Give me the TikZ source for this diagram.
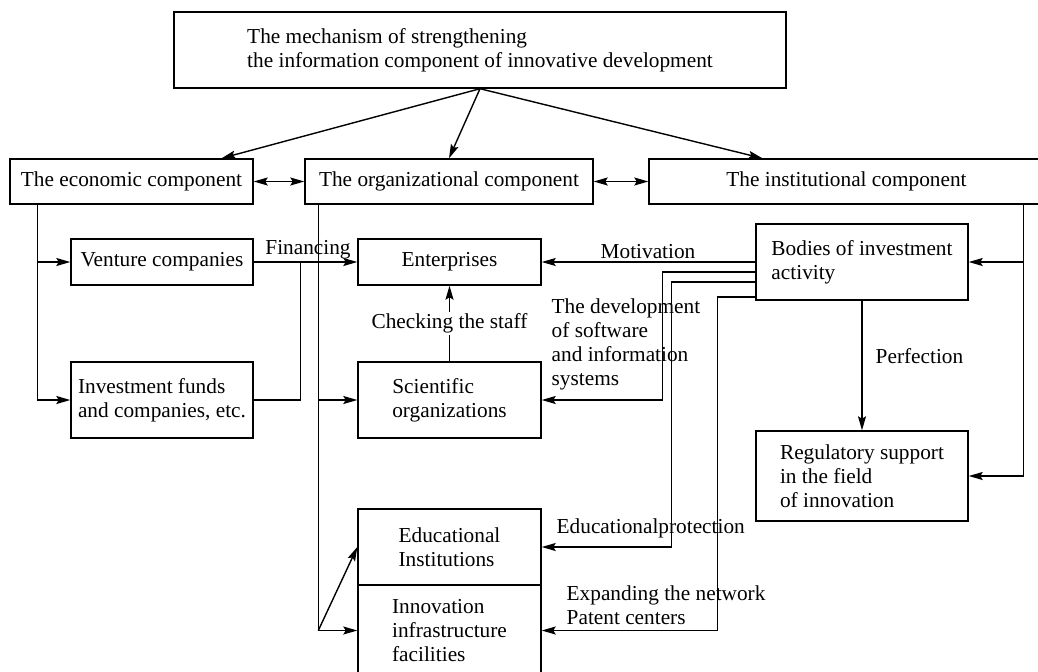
\documentclass[tikz,border=0pt]{standalone}
\usepackage{fontspec}
\setmainfont{Liberation Serif}
\usetikzlibrary{arrows.meta}
\tikzset{
  blk/.style={draw, align=left, inner sep=0pt},
  lbl/.style={inner sep=0pt, align=left},
}
\begin{document}
\begin{tikzpicture}[x=0.5pt, y=-0.5pt, line width=0.7pt,
  >={Stealth[length=7pt,width=4pt,inset=1.2pt]},
  every node/.style={font=\fontsize{10.65}{12}\selectfont}]
\useasboundingbox (0,0) rectangle (1038,671);
\node[blk, minimum width=306pt, minimum height=38pt] (top) at (480,50) {The mechanism of strengthening\\the information component of innovative development};
\node[blk, minimum width=121.5pt, minimum height=22.5pt] (econ) at (131.5,181.5) {The economic component};
\node[blk, minimum width=144pt, minimum height=22.5pt] (org) at (449,181.5) {The organizational component};
\node[blk, minimum width=197.5pt, minimum height=22.5pt] (inst) at (846.5,181.5) {The institutional component};
\node[blk, minimum width=91pt, minimum height=23pt] (vent) at (162,262) {Venture companies};
\node[blk, minimum width=91pt, minimum height=38pt] (inv) at (162,400) {Investment funds\\and companies, etc.};
\node[blk, minimum width=91.5pt, minimum height=23pt] (ent) at (449.5,262) {Enterprises};
\node[blk, minimum width=91.5pt, minimum height=38pt] (sci) at (449.5,400) {Scientific\\organizations};
\node[blk, minimum width=91.5pt, minimum height=38pt] (edu) at (449.5,547) {Educational\\Institutions};
\node[blk, minimum width=91.5pt, minimum height=45.5pt] (innov) at (449.5,630.5) {Innovation\\infrastructure\\facilities};
\node[blk, minimum width=106pt, minimum height=38pt] (bodies) at (862,262) {Bodies of investment\\activity};
\node[blk, minimum width=106pt, minimum height=45pt] (reg) at (862,476) {Regulatory support\\in the field\\of innovation};

\draw[->] (top.south) -- ([xshift=45pt]econ.north);
\draw[->] (top.south) -- (org.north);
\draw[->] (top.south) -- ([xshift=-42pt]inst.north);
\draw[<->] (econ) -- (org);
\draw[<->] (org) -- (inst);

\coordinate (ec) at ([xshift=14pt]econ.south west);
\draw[->] (ec) |- (vent);
\draw[->] (ec) |- (inv);
\draw[->] (vent) -- (ent);
\draw (inv.east) -- ++(47,0) |- (vent.east);
\node[lbl] (fin) at (308,250) {Financing};

\coordinate (oc) at ([xshift=7pt]org.south west);
\draw[->] (oc) |- (sci);
\draw[->] (oc) |- (innov);
\draw[->] (oc |- innov.west) -- (edu.west);
\draw[->] (sci) -- (ent) node[lbl, fill=white, inner ysep=1pt, midway] (chk) {Checking the staff};

\coordinate (ic) at ([xshift=187.5pt]inst.south west);
\draw[->] (ic) |- (bodies);
\draw[->] (ic) |- (reg);
\draw[->] (bodies) -- (reg);
\node[lbl, anchor=west] (perf) at (875,356) {Perfection};

\draw[->] (bodies) -- (ent);
\node[lbl] (mot) at (648,252) {Motivation};
\draw[->] ([yshift=-5pt]bodies.west) -- ++(-93,0) |- (sci);
\node[lbl, anchor=west] (dev) at (551,344) {The development\\of software\\and information\\systems};
\draw[->] ([yshift=-10pt]bodies.west) -- ++(-84,0) |- (edu);
\node[lbl, anchor=west] (eduprot) at (556,528) {Educationalprotection};
\draw[->] ([yshift=-17.5pt]bodies.west) -- ++(-38,0) |- (innov);
\node[lbl, anchor=west] (expn) at (566,605) {Expanding the network\\Patent centers};
\end{tikzpicture}
\end{document}
